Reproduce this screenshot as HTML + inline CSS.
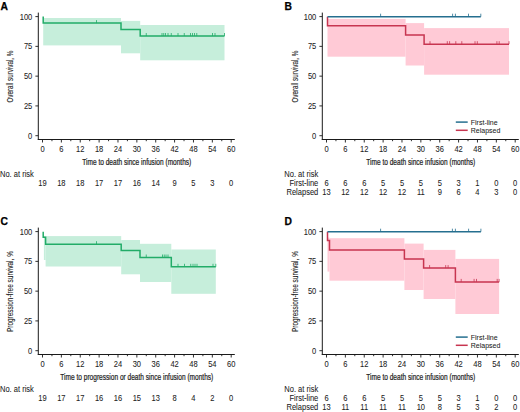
<!DOCTYPE html>
<html><head><meta charset="utf-8"><style>
html,body{margin:0;padding:0;background:#fff;}
svg{display:block;}
text{font-family:"Liberation Sans", sans-serif;fill:#222;}
.t{stroke:#222;stroke-width:0.06px;}
.tt{stroke:#222;stroke-width:0.1px;}
.tx{stroke:#222;stroke-width:0.22px;}
.L{fill:#000;stroke:#000;stroke-width:0.25px;}
</style></head><body>
<svg width="520" height="412" viewBox="0 0 520 412">
<rect width="520" height="412" fill="#fff"/>
<g transform="translate(0 0)"><text x="0.6" y="10" font-size="10.3" font-weight="bold" class="L">A</text><rect x="43.20" y="18.00" width="77.80" height="27.40" fill="#c6eedb"/><rect x="121.00" y="20.90" width="19.20" height="32.40" fill="#c6eedb"/><rect x="140.20" y="25.00" width="84.30" height="35.30" fill="#c6eedb"/><path d="M43.2 16.6 V23.1 H121 V29.4 H140.2 V36 H224.5" fill="none" stroke="#22ac68" stroke-width="1.5"/><line x1="96.50" y1="23.10" x2="96.50" y2="20.10" stroke="#22ac68" stroke-width="0.8"/><line x1="146.25" y1="36.00" x2="146.25" y2="33.00" stroke="#22ac68" stroke-width="0.8"/><line x1="162.00" y1="36.00" x2="162.00" y2="33.00" stroke="#22ac68" stroke-width="0.8"/><line x1="163.75" y1="36.00" x2="163.75" y2="33.00" stroke="#22ac68" stroke-width="0.8"/><line x1="165.50" y1="36.00" x2="165.50" y2="33.00" stroke="#22ac68" stroke-width="0.8"/><line x1="168.00" y1="36.00" x2="168.00" y2="33.00" stroke="#22ac68" stroke-width="0.8"/><line x1="171.25" y1="36.00" x2="171.25" y2="33.00" stroke="#22ac68" stroke-width="0.8"/><line x1="178.00" y1="36.00" x2="178.00" y2="33.00" stroke="#22ac68" stroke-width="0.8"/><line x1="184.25" y1="36.00" x2="184.25" y2="33.00" stroke="#22ac68" stroke-width="0.8"/><line x1="190.50" y1="36.00" x2="190.50" y2="33.00" stroke="#22ac68" stroke-width="0.8"/><line x1="192.50" y1="36.00" x2="192.50" y2="33.00" stroke="#22ac68" stroke-width="0.8"/><line x1="194.50" y1="36.00" x2="194.50" y2="33.00" stroke="#22ac68" stroke-width="0.8"/><line x1="196.75" y1="36.00" x2="196.75" y2="33.00" stroke="#22ac68" stroke-width="0.8"/><line x1="212.50" y1="36.00" x2="212.50" y2="33.00" stroke="#22ac68" stroke-width="0.8"/><line x1="215.00" y1="36.00" x2="215.00" y2="33.00" stroke="#22ac68" stroke-width="0.8"/><line x1="224.50" y1="36.00" x2="224.50" y2="33.00" stroke="#22ac68" stroke-width="0.8"/><line x1="38.3" y1="12.6" x2="38.3" y2="140" stroke="#1a1a1a" stroke-width="1"/><line x1="37.8" y1="139.5" x2="234.8" y2="139.5" stroke="#1a1a1a" stroke-width="1"/><line x1="35.4" y1="135.70" x2="38.3" y2="135.70" stroke="#1a1a1a" stroke-width="0.9"/><text transform="translate(32.30 138.60) scale(0.92 1)" font-size="8.2" text-anchor="end" class="t">0</text><line x1="35.4" y1="105.92" x2="38.3" y2="105.92" stroke="#1a1a1a" stroke-width="0.9"/><text transform="translate(32.30 108.82) scale(0.92 1)" font-size="8.2" text-anchor="end" class="t">25</text><line x1="35.4" y1="76.15" x2="38.3" y2="76.15" stroke="#1a1a1a" stroke-width="0.9"/><text transform="translate(32.30 79.05) scale(0.92 1)" font-size="8.2" text-anchor="end" class="t">50</text><line x1="35.4" y1="46.37" x2="38.3" y2="46.37" stroke="#1a1a1a" stroke-width="0.9"/><text transform="translate(32.30 49.27) scale(0.92 1)" font-size="8.2" text-anchor="end" class="t">75</text><line x1="35.4" y1="16.60" x2="38.3" y2="16.60" stroke="#1a1a1a" stroke-width="0.9"/><text transform="translate(32.30 19.50) scale(0.92 1)" font-size="8.2" text-anchor="end" class="t">100</text><line x1="42.50" y1="139.5" x2="42.50" y2="142.50" stroke="#1a1a1a" stroke-width="0.9"/><text transform="translate(42.50 151.80) scale(0.92 1)" font-size="8.2" text-anchor="middle" class="t">0</text><line x1="51.94" y1="139.5" x2="51.94" y2="141.20" stroke="#1a1a1a" stroke-width="0.9"/><line x1="61.37" y1="139.5" x2="61.37" y2="142.50" stroke="#1a1a1a" stroke-width="0.9"/><text transform="translate(61.37 151.80) scale(0.92 1)" font-size="8.2" text-anchor="middle" class="t">6</text><line x1="70.81" y1="139.5" x2="70.81" y2="141.20" stroke="#1a1a1a" stroke-width="0.9"/><line x1="80.24" y1="139.5" x2="80.24" y2="142.50" stroke="#1a1a1a" stroke-width="0.9"/><text transform="translate(80.24 151.80) scale(0.92 1)" font-size="8.2" text-anchor="middle" class="t">12</text><line x1="89.67" y1="139.5" x2="89.67" y2="141.20" stroke="#1a1a1a" stroke-width="0.9"/><line x1="99.11" y1="139.5" x2="99.11" y2="142.50" stroke="#1a1a1a" stroke-width="0.9"/><text transform="translate(99.11 151.80) scale(0.92 1)" font-size="8.2" text-anchor="middle" class="t">18</text><line x1="108.55" y1="139.5" x2="108.55" y2="141.20" stroke="#1a1a1a" stroke-width="0.9"/><line x1="117.98" y1="139.5" x2="117.98" y2="142.50" stroke="#1a1a1a" stroke-width="0.9"/><text transform="translate(117.98 151.80) scale(0.92 1)" font-size="8.2" text-anchor="middle" class="t">24</text><line x1="127.42" y1="139.5" x2="127.42" y2="141.20" stroke="#1a1a1a" stroke-width="0.9"/><line x1="136.85" y1="139.5" x2="136.85" y2="142.50" stroke="#1a1a1a" stroke-width="0.9"/><text transform="translate(136.85 151.80) scale(0.92 1)" font-size="8.2" text-anchor="middle" class="t">30</text><line x1="146.28" y1="139.5" x2="146.28" y2="141.20" stroke="#1a1a1a" stroke-width="0.9"/><line x1="155.72" y1="139.5" x2="155.72" y2="142.50" stroke="#1a1a1a" stroke-width="0.9"/><text transform="translate(155.72 151.80) scale(0.92 1)" font-size="8.2" text-anchor="middle" class="t">36</text><line x1="165.16" y1="139.5" x2="165.16" y2="141.20" stroke="#1a1a1a" stroke-width="0.9"/><line x1="174.59" y1="139.5" x2="174.59" y2="142.50" stroke="#1a1a1a" stroke-width="0.9"/><text transform="translate(174.59 151.80) scale(0.92 1)" font-size="8.2" text-anchor="middle" class="t">42</text><line x1="184.03" y1="139.5" x2="184.03" y2="141.20" stroke="#1a1a1a" stroke-width="0.9"/><line x1="193.46" y1="139.5" x2="193.46" y2="142.50" stroke="#1a1a1a" stroke-width="0.9"/><text transform="translate(193.46 151.80) scale(0.92 1)" font-size="8.2" text-anchor="middle" class="t">48</text><line x1="202.90" y1="139.5" x2="202.90" y2="141.20" stroke="#1a1a1a" stroke-width="0.9"/><line x1="212.33" y1="139.5" x2="212.33" y2="142.50" stroke="#1a1a1a" stroke-width="0.9"/><text transform="translate(212.33 151.80) scale(0.92 1)" font-size="8.2" text-anchor="middle" class="t">54</text><line x1="221.77" y1="139.5" x2="221.77" y2="141.20" stroke="#1a1a1a" stroke-width="0.9"/><line x1="231.20" y1="139.5" x2="231.20" y2="142.50" stroke="#1a1a1a" stroke-width="0.9"/><text transform="translate(231.20 151.80) scale(0.92 1)" font-size="8.2" text-anchor="middle" class="t">60</text><text x="136.8" y="164.8" font-size="8.6" class="tx" text-anchor="middle" textLength="109" lengthAdjust="spacingAndGlyphs">Time to death since infusion (months)</text><text transform="translate(13.4 76.6) rotate(-90)" x="0" y="0" font-size="8.6" class="tt" text-anchor="middle" textLength="52" lengthAdjust="spacingAndGlyphs">Overall survival, %</text><text transform="translate(0.00 176.80) scale(0.92 1)" font-size="8.2" class="t">No. at risk</text><text transform="translate(42.50 185.50) scale(0.92 1)" font-size="8.2" text-anchor="middle" class="t">19</text><text transform="translate(61.37 185.50) scale(0.92 1)" font-size="8.2" text-anchor="middle" class="t">18</text><text transform="translate(80.24 185.50) scale(0.92 1)" font-size="8.2" text-anchor="middle" class="t">18</text><text transform="translate(99.11 185.50) scale(0.92 1)" font-size="8.2" text-anchor="middle" class="t">17</text><text transform="translate(117.98 185.50) scale(0.92 1)" font-size="8.2" text-anchor="middle" class="t">17</text><text transform="translate(136.85 185.50) scale(0.92 1)" font-size="8.2" text-anchor="middle" class="t">16</text><text transform="translate(155.72 185.50) scale(0.92 1)" font-size="8.2" text-anchor="middle" class="t">14</text><text transform="translate(174.59 185.50) scale(0.92 1)" font-size="8.2" text-anchor="middle" class="t">9</text><text transform="translate(193.46 185.50) scale(0.92 1)" font-size="8.2" text-anchor="middle" class="t">5</text><text transform="translate(212.33 185.50) scale(0.92 1)" font-size="8.2" text-anchor="middle" class="t">3</text><text transform="translate(231.20 185.50) scale(0.92 1)" font-size="8.2" text-anchor="middle" class="t">0</text></g><g transform="translate(284 0)"><text x="0.6" y="10" font-size="10.3" font-weight="bold" class="L">B</text><rect x="43.50" y="18.90" width="78.10" height="37.80" fill="#ffcad6"/><rect x="121.60" y="23.10" width="18.50" height="42.40" fill="#ffcad6"/><rect x="140.10" y="28.10" width="84.90" height="46.60" fill="#ffcad6"/><path d="M43.5 16.7 V25.8 H121.60000000000002 V35.1 H140.10000000000002 V44.2 H225" fill="none" stroke="#c73550" stroke-width="1.5"/><line x1="146.00" y1="44.20" x2="146.00" y2="41.20" stroke="#c73550" stroke-width="0.8"/><line x1="163.30" y1="44.20" x2="163.30" y2="41.20" stroke="#c73550" stroke-width="0.8"/><line x1="165.60" y1="44.20" x2="165.60" y2="41.20" stroke="#c73550" stroke-width="0.8"/><line x1="171.80" y1="44.20" x2="171.80" y2="41.20" stroke="#c73550" stroke-width="0.8"/><line x1="177.80" y1="44.20" x2="177.80" y2="41.20" stroke="#c73550" stroke-width="0.8"/><line x1="191.00" y1="44.20" x2="191.00" y2="41.20" stroke="#c73550" stroke-width="0.8"/><line x1="193.30" y1="44.20" x2="193.30" y2="41.20" stroke="#c73550" stroke-width="0.8"/><line x1="212.90" y1="44.20" x2="212.90" y2="41.20" stroke="#c73550" stroke-width="0.8"/><line x1="215.20" y1="44.20" x2="215.20" y2="41.20" stroke="#c73550" stroke-width="0.8"/><line x1="225.00" y1="44.20" x2="225.00" y2="41.20" stroke="#c73550" stroke-width="0.8"/><path d="M43.5 16.7 H196.8" fill="none" stroke="#256f8f" stroke-width="1.5"/><line x1="96.60" y1="16.70" x2="96.60" y2="13.70" stroke="#256f8f" stroke-width="0.8"/><line x1="168.60" y1="16.70" x2="168.60" y2="13.70" stroke="#256f8f" stroke-width="0.8"/><line x1="171.40" y1="16.70" x2="171.40" y2="13.70" stroke="#256f8f" stroke-width="0.8"/><line x1="184.50" y1="16.70" x2="184.50" y2="13.70" stroke="#256f8f" stroke-width="0.8"/><line x1="196.80" y1="16.70" x2="196.80" y2="13.70" stroke="#256f8f" stroke-width="0.8"/><line x1="38.3" y1="12.6" x2="38.3" y2="140" stroke="#1a1a1a" stroke-width="1"/><line x1="37.8" y1="139.5" x2="234.8" y2="139.5" stroke="#1a1a1a" stroke-width="1"/><line x1="35.4" y1="135.70" x2="38.3" y2="135.70" stroke="#1a1a1a" stroke-width="0.9"/><text transform="translate(32.30 138.60) scale(0.92 1)" font-size="8.2" text-anchor="end" class="t">0</text><line x1="35.4" y1="105.92" x2="38.3" y2="105.92" stroke="#1a1a1a" stroke-width="0.9"/><text transform="translate(32.30 108.82) scale(0.92 1)" font-size="8.2" text-anchor="end" class="t">25</text><line x1="35.4" y1="76.15" x2="38.3" y2="76.15" stroke="#1a1a1a" stroke-width="0.9"/><text transform="translate(32.30 79.05) scale(0.92 1)" font-size="8.2" text-anchor="end" class="t">50</text><line x1="35.4" y1="46.37" x2="38.3" y2="46.37" stroke="#1a1a1a" stroke-width="0.9"/><text transform="translate(32.30 49.27) scale(0.92 1)" font-size="8.2" text-anchor="end" class="t">75</text><line x1="35.4" y1="16.60" x2="38.3" y2="16.60" stroke="#1a1a1a" stroke-width="0.9"/><text transform="translate(32.30 19.50) scale(0.92 1)" font-size="8.2" text-anchor="end" class="t">100</text><line x1="42.50" y1="139.5" x2="42.50" y2="142.50" stroke="#1a1a1a" stroke-width="0.9"/><text transform="translate(42.50 151.80) scale(0.92 1)" font-size="8.2" text-anchor="middle" class="t">0</text><line x1="51.94" y1="139.5" x2="51.94" y2="141.20" stroke="#1a1a1a" stroke-width="0.9"/><line x1="61.37" y1="139.5" x2="61.37" y2="142.50" stroke="#1a1a1a" stroke-width="0.9"/><text transform="translate(61.37 151.80) scale(0.92 1)" font-size="8.2" text-anchor="middle" class="t">6</text><line x1="70.81" y1="139.5" x2="70.81" y2="141.20" stroke="#1a1a1a" stroke-width="0.9"/><line x1="80.24" y1="139.5" x2="80.24" y2="142.50" stroke="#1a1a1a" stroke-width="0.9"/><text transform="translate(80.24 151.80) scale(0.92 1)" font-size="8.2" text-anchor="middle" class="t">12</text><line x1="89.67" y1="139.5" x2="89.67" y2="141.20" stroke="#1a1a1a" stroke-width="0.9"/><line x1="99.11" y1="139.5" x2="99.11" y2="142.50" stroke="#1a1a1a" stroke-width="0.9"/><text transform="translate(99.11 151.80) scale(0.92 1)" font-size="8.2" text-anchor="middle" class="t">18</text><line x1="108.55" y1="139.5" x2="108.55" y2="141.20" stroke="#1a1a1a" stroke-width="0.9"/><line x1="117.98" y1="139.5" x2="117.98" y2="142.50" stroke="#1a1a1a" stroke-width="0.9"/><text transform="translate(117.98 151.80) scale(0.92 1)" font-size="8.2" text-anchor="middle" class="t">24</text><line x1="127.42" y1="139.5" x2="127.42" y2="141.20" stroke="#1a1a1a" stroke-width="0.9"/><line x1="136.85" y1="139.5" x2="136.85" y2="142.50" stroke="#1a1a1a" stroke-width="0.9"/><text transform="translate(136.85 151.80) scale(0.92 1)" font-size="8.2" text-anchor="middle" class="t">30</text><line x1="146.28" y1="139.5" x2="146.28" y2="141.20" stroke="#1a1a1a" stroke-width="0.9"/><line x1="155.72" y1="139.5" x2="155.72" y2="142.50" stroke="#1a1a1a" stroke-width="0.9"/><text transform="translate(155.72 151.80) scale(0.92 1)" font-size="8.2" text-anchor="middle" class="t">36</text><line x1="165.16" y1="139.5" x2="165.16" y2="141.20" stroke="#1a1a1a" stroke-width="0.9"/><line x1="174.59" y1="139.5" x2="174.59" y2="142.50" stroke="#1a1a1a" stroke-width="0.9"/><text transform="translate(174.59 151.80) scale(0.92 1)" font-size="8.2" text-anchor="middle" class="t">42</text><line x1="184.03" y1="139.5" x2="184.03" y2="141.20" stroke="#1a1a1a" stroke-width="0.9"/><line x1="193.46" y1="139.5" x2="193.46" y2="142.50" stroke="#1a1a1a" stroke-width="0.9"/><text transform="translate(193.46 151.80) scale(0.92 1)" font-size="8.2" text-anchor="middle" class="t">48</text><line x1="202.90" y1="139.5" x2="202.90" y2="141.20" stroke="#1a1a1a" stroke-width="0.9"/><line x1="212.33" y1="139.5" x2="212.33" y2="142.50" stroke="#1a1a1a" stroke-width="0.9"/><text transform="translate(212.33 151.80) scale(0.92 1)" font-size="8.2" text-anchor="middle" class="t">54</text><line x1="221.77" y1="139.5" x2="221.77" y2="141.20" stroke="#1a1a1a" stroke-width="0.9"/><line x1="231.20" y1="139.5" x2="231.20" y2="142.50" stroke="#1a1a1a" stroke-width="0.9"/><text transform="translate(231.20 151.80) scale(0.92 1)" font-size="8.2" text-anchor="middle" class="t">60</text><text x="136.8" y="164.8" font-size="8.6" class="tx" text-anchor="middle" textLength="109" lengthAdjust="spacingAndGlyphs">Time to death since infusion (months)</text><text transform="translate(14.2 76.6) rotate(-90)" x="0" y="0" font-size="8.6" class="tt" text-anchor="middle" textLength="52" lengthAdjust="spacingAndGlyphs">Overall survival, %</text><text transform="translate(0.30 176.80) scale(0.92 1)" font-size="8.2" class="t">No. at risk</text><text transform="translate(34.30 185.60) scale(0.92 1)" font-size="8.2" text-anchor="end" class="t">First-line</text><text transform="translate(42.50 185.60) scale(0.92 1)" font-size="8.2" text-anchor="middle" class="t">6</text><text transform="translate(61.37 185.60) scale(0.92 1)" font-size="8.2" text-anchor="middle" class="t">6</text><text transform="translate(80.24 185.60) scale(0.92 1)" font-size="8.2" text-anchor="middle" class="t">6</text><text transform="translate(99.11 185.60) scale(0.92 1)" font-size="8.2" text-anchor="middle" class="t">5</text><text transform="translate(117.98 185.60) scale(0.92 1)" font-size="8.2" text-anchor="middle" class="t">5</text><text transform="translate(136.85 185.60) scale(0.92 1)" font-size="8.2" text-anchor="middle" class="t">5</text><text transform="translate(155.72 185.60) scale(0.92 1)" font-size="8.2" text-anchor="middle" class="t">5</text><text transform="translate(174.59 185.60) scale(0.92 1)" font-size="8.2" text-anchor="middle" class="t">3</text><text transform="translate(193.46 185.60) scale(0.92 1)" font-size="8.2" text-anchor="middle" class="t">1</text><text transform="translate(212.33 185.60) scale(0.92 1)" font-size="8.2" text-anchor="middle" class="t">0</text><text transform="translate(231.20 185.60) scale(0.92 1)" font-size="8.2" text-anchor="middle" class="t">0</text><text transform="translate(34.30 194.80) scale(0.92 1)" font-size="8.2" text-anchor="end" class="t">Relapsed</text><text transform="translate(42.50 194.80) scale(0.92 1)" font-size="8.2" text-anchor="middle" class="t">13</text><text transform="translate(61.37 194.80) scale(0.92 1)" font-size="8.2" text-anchor="middle" class="t">12</text><text transform="translate(80.24 194.80) scale(0.92 1)" font-size="8.2" text-anchor="middle" class="t">12</text><text transform="translate(99.11 194.80) scale(0.92 1)" font-size="8.2" text-anchor="middle" class="t">12</text><text transform="translate(117.98 194.80) scale(0.92 1)" font-size="8.2" text-anchor="middle" class="t">12</text><text transform="translate(136.85 194.80) scale(0.92 1)" font-size="8.2" text-anchor="middle" class="t">11</text><text transform="translate(155.72 194.80) scale(0.92 1)" font-size="8.2" text-anchor="middle" class="t">9</text><text transform="translate(174.59 194.80) scale(0.92 1)" font-size="8.2" text-anchor="middle" class="t">6</text><text transform="translate(193.46 194.80) scale(0.92 1)" font-size="8.2" text-anchor="middle" class="t">4</text><text transform="translate(212.33 194.80) scale(0.92 1)" font-size="8.2" text-anchor="middle" class="t">3</text><text transform="translate(231.20 194.80) scale(0.92 1)" font-size="8.2" text-anchor="middle" class="t">0</text><line x1="171.8" y1="122.1" x2="183.7" y2="122.1" stroke="#256f8f" stroke-width="1.5"/><line x1="171.8" y1="130.3" x2="183.7" y2="130.3" stroke="#c73550" stroke-width="1.5"/><text transform="translate(186.80 124.60) scale(0.92 1)" font-size="7.6" class="t">First-line</text><text transform="translate(186.80 132.90) scale(0.92 1)" font-size="7.6" class="t">Relapsed</text></g><g transform="translate(0 215)"><text x="0.6" y="10" font-size="10.3" font-weight="bold" class="L">C</text><rect x="43.90" y="20.90" width="1.70" height="24.10" fill="#c6eedb"/><rect x="45.60" y="21.10" width="75.60" height="30.40" fill="#c6eedb"/><rect x="121.20" y="25.00" width="18.80" height="34.30" fill="#c6eedb"/><rect x="140.00" y="28.80" width="31.30" height="38.20" fill="#c6eedb"/><rect x="171.30" y="34.50" width="44.50" height="44.30" fill="#c6eedb"/><path d="M43.2 16.69999999999999 V22.30000000000001 H45.6 V29.19999999999999 H121.2 V35.599999999999994 H140 V42.5 H171.3 V51.80000000000001 H215.8" fill="none" stroke="#22ac68" stroke-width="1.5"/><line x1="96.50" y1="29.20" x2="96.50" y2="26.20" stroke="#22ac68" stroke-width="0.8"/><line x1="146.25" y1="42.50" x2="146.25" y2="39.50" stroke="#22ac68" stroke-width="0.8"/><line x1="162.50" y1="42.50" x2="162.50" y2="39.50" stroke="#22ac68" stroke-width="0.8"/><line x1="164.25" y1="42.50" x2="164.25" y2="39.50" stroke="#22ac68" stroke-width="0.8"/><line x1="166.00" y1="42.50" x2="166.00" y2="39.50" stroke="#22ac68" stroke-width="0.8"/><line x1="168.00" y1="42.50" x2="168.00" y2="39.50" stroke="#22ac68" stroke-width="0.8"/><line x1="178.00" y1="51.80" x2="178.00" y2="48.80" stroke="#22ac68" stroke-width="0.8"/><line x1="184.50" y1="51.80" x2="184.50" y2="48.80" stroke="#22ac68" stroke-width="0.8"/><line x1="190.75" y1="51.80" x2="190.75" y2="48.80" stroke="#22ac68" stroke-width="0.8"/><line x1="193.00" y1="51.80" x2="193.00" y2="48.80" stroke="#22ac68" stroke-width="0.8"/><line x1="195.00" y1="51.80" x2="195.00" y2="48.80" stroke="#22ac68" stroke-width="0.8"/><line x1="197.00" y1="51.80" x2="197.00" y2="48.80" stroke="#22ac68" stroke-width="0.8"/><line x1="213.00" y1="51.80" x2="213.00" y2="48.80" stroke="#22ac68" stroke-width="0.8"/><line x1="215.80" y1="51.80" x2="215.80" y2="48.80" stroke="#22ac68" stroke-width="0.8"/><line x1="38.3" y1="12.6" x2="38.3" y2="140" stroke="#1a1a1a" stroke-width="1"/><line x1="37.8" y1="139.5" x2="234.8" y2="139.5" stroke="#1a1a1a" stroke-width="1"/><line x1="35.4" y1="135.70" x2="38.3" y2="135.70" stroke="#1a1a1a" stroke-width="0.9"/><text transform="translate(32.30 138.60) scale(0.92 1)" font-size="8.2" text-anchor="end" class="t">0</text><line x1="35.4" y1="105.92" x2="38.3" y2="105.92" stroke="#1a1a1a" stroke-width="0.9"/><text transform="translate(32.30 108.82) scale(0.92 1)" font-size="8.2" text-anchor="end" class="t">25</text><line x1="35.4" y1="76.15" x2="38.3" y2="76.15" stroke="#1a1a1a" stroke-width="0.9"/><text transform="translate(32.30 79.05) scale(0.92 1)" font-size="8.2" text-anchor="end" class="t">50</text><line x1="35.4" y1="46.37" x2="38.3" y2="46.37" stroke="#1a1a1a" stroke-width="0.9"/><text transform="translate(32.30 49.27) scale(0.92 1)" font-size="8.2" text-anchor="end" class="t">75</text><line x1="35.4" y1="16.60" x2="38.3" y2="16.60" stroke="#1a1a1a" stroke-width="0.9"/><text transform="translate(32.30 19.50) scale(0.92 1)" font-size="8.2" text-anchor="end" class="t">100</text><line x1="42.50" y1="139.5" x2="42.50" y2="142.50" stroke="#1a1a1a" stroke-width="0.9"/><text transform="translate(42.50 151.80) scale(0.92 1)" font-size="8.2" text-anchor="middle" class="t">0</text><line x1="51.94" y1="139.5" x2="51.94" y2="141.20" stroke="#1a1a1a" stroke-width="0.9"/><line x1="61.37" y1="139.5" x2="61.37" y2="142.50" stroke="#1a1a1a" stroke-width="0.9"/><text transform="translate(61.37 151.80) scale(0.92 1)" font-size="8.2" text-anchor="middle" class="t">6</text><line x1="70.81" y1="139.5" x2="70.81" y2="141.20" stroke="#1a1a1a" stroke-width="0.9"/><line x1="80.24" y1="139.5" x2="80.24" y2="142.50" stroke="#1a1a1a" stroke-width="0.9"/><text transform="translate(80.24 151.80) scale(0.92 1)" font-size="8.2" text-anchor="middle" class="t">12</text><line x1="89.67" y1="139.5" x2="89.67" y2="141.20" stroke="#1a1a1a" stroke-width="0.9"/><line x1="99.11" y1="139.5" x2="99.11" y2="142.50" stroke="#1a1a1a" stroke-width="0.9"/><text transform="translate(99.11 151.80) scale(0.92 1)" font-size="8.2" text-anchor="middle" class="t">18</text><line x1="108.55" y1="139.5" x2="108.55" y2="141.20" stroke="#1a1a1a" stroke-width="0.9"/><line x1="117.98" y1="139.5" x2="117.98" y2="142.50" stroke="#1a1a1a" stroke-width="0.9"/><text transform="translate(117.98 151.80) scale(0.92 1)" font-size="8.2" text-anchor="middle" class="t">24</text><line x1="127.42" y1="139.5" x2="127.42" y2="141.20" stroke="#1a1a1a" stroke-width="0.9"/><line x1="136.85" y1="139.5" x2="136.85" y2="142.50" stroke="#1a1a1a" stroke-width="0.9"/><text transform="translate(136.85 151.80) scale(0.92 1)" font-size="8.2" text-anchor="middle" class="t">30</text><line x1="146.28" y1="139.5" x2="146.28" y2="141.20" stroke="#1a1a1a" stroke-width="0.9"/><line x1="155.72" y1="139.5" x2="155.72" y2="142.50" stroke="#1a1a1a" stroke-width="0.9"/><text transform="translate(155.72 151.80) scale(0.92 1)" font-size="8.2" text-anchor="middle" class="t">36</text><line x1="165.16" y1="139.5" x2="165.16" y2="141.20" stroke="#1a1a1a" stroke-width="0.9"/><line x1="174.59" y1="139.5" x2="174.59" y2="142.50" stroke="#1a1a1a" stroke-width="0.9"/><text transform="translate(174.59 151.80) scale(0.92 1)" font-size="8.2" text-anchor="middle" class="t">42</text><line x1="184.03" y1="139.5" x2="184.03" y2="141.20" stroke="#1a1a1a" stroke-width="0.9"/><line x1="193.46" y1="139.5" x2="193.46" y2="142.50" stroke="#1a1a1a" stroke-width="0.9"/><text transform="translate(193.46 151.80) scale(0.92 1)" font-size="8.2" text-anchor="middle" class="t">48</text><line x1="202.90" y1="139.5" x2="202.90" y2="141.20" stroke="#1a1a1a" stroke-width="0.9"/><line x1="212.33" y1="139.5" x2="212.33" y2="142.50" stroke="#1a1a1a" stroke-width="0.9"/><text transform="translate(212.33 151.80) scale(0.92 1)" font-size="8.2" text-anchor="middle" class="t">54</text><line x1="221.77" y1="139.5" x2="221.77" y2="141.20" stroke="#1a1a1a" stroke-width="0.9"/><line x1="231.20" y1="139.5" x2="231.20" y2="142.50" stroke="#1a1a1a" stroke-width="0.9"/><text transform="translate(231.20 151.80) scale(0.92 1)" font-size="8.2" text-anchor="middle" class="t">60</text><text x="136.8" y="164.8" font-size="8.6" class="tx" text-anchor="middle" textLength="153" lengthAdjust="spacingAndGlyphs">Time to progression or death since infusion (months)</text><text transform="translate(13.4 76.6) rotate(-90)" x="0" y="0" font-size="8.6" class="tt" text-anchor="middle" textLength="81" lengthAdjust="spacingAndGlyphs">Progression-free survival, %</text><text transform="translate(0.00 176.80) scale(0.92 1)" font-size="8.2" class="t">No. at risk</text><text transform="translate(42.50 185.50) scale(0.92 1)" font-size="8.2" text-anchor="middle" class="t">19</text><text transform="translate(61.37 185.50) scale(0.92 1)" font-size="8.2" text-anchor="middle" class="t">17</text><text transform="translate(80.24 185.50) scale(0.92 1)" font-size="8.2" text-anchor="middle" class="t">17</text><text transform="translate(99.11 185.50) scale(0.92 1)" font-size="8.2" text-anchor="middle" class="t">16</text><text transform="translate(117.98 185.50) scale(0.92 1)" font-size="8.2" text-anchor="middle" class="t">16</text><text transform="translate(136.85 185.50) scale(0.92 1)" font-size="8.2" text-anchor="middle" class="t">15</text><text transform="translate(155.72 185.50) scale(0.92 1)" font-size="8.2" text-anchor="middle" class="t">13</text><text transform="translate(174.59 185.50) scale(0.92 1)" font-size="8.2" text-anchor="middle" class="t">8</text><text transform="translate(193.46 185.50) scale(0.92 1)" font-size="8.2" text-anchor="middle" class="t">4</text><text transform="translate(212.33 185.50) scale(0.92 1)" font-size="8.2" text-anchor="middle" class="t">2</text><text transform="translate(231.20 185.50) scale(0.92 1)" font-size="8.2" text-anchor="middle" class="t">0</text></g><g transform="translate(284 215)"><text x="0.6" y="10" font-size="10.3" font-weight="bold" class="L">D</text><rect x="43.50" y="22.60" width="2.00" height="34.00" fill="#ffcad6"/><rect x="45.50" y="23.20" width="74.90" height="42.50" fill="#ffcad6"/><rect x="120.40" y="28.60" width="19.20" height="46.40" fill="#ffcad6"/><rect x="139.60" y="34.90" width="31.80" height="49.10" fill="#ffcad6"/><rect x="171.40" y="43.90" width="43.70" height="55.10" fill="#ffcad6"/><path d="M43.5 16.69999999999999 V25.400000000000006 H45.5 V35 H120.39999999999998 V44.10000000000002 H139.60000000000002 V53.10000000000002 H171.39999999999998 V66.89999999999998 H215.10000000000002" fill="none" stroke="#c73550" stroke-width="1.5"/><line x1="145.60" y1="53.10" x2="145.60" y2="50.10" stroke="#c73550" stroke-width="0.8"/><line x1="161.70" y1="53.10" x2="161.70" y2="50.10" stroke="#c73550" stroke-width="0.8"/><line x1="164.10" y1="53.10" x2="164.10" y2="50.10" stroke="#c73550" stroke-width="0.8"/><line x1="177.20" y1="66.90" x2="177.20" y2="63.90" stroke="#c73550" stroke-width="0.8"/><line x1="190.10" y1="66.90" x2="190.10" y2="63.90" stroke="#c73550" stroke-width="0.8"/><line x1="192.50" y1="66.90" x2="192.50" y2="63.90" stroke="#c73550" stroke-width="0.8"/><line x1="213.20" y1="66.90" x2="213.20" y2="63.90" stroke="#c73550" stroke-width="0.8"/><line x1="215.10" y1="66.90" x2="215.10" y2="63.90" stroke="#c73550" stroke-width="0.8"/><path d="M43.5 16.69999999999999 H196.89999999999998" fill="none" stroke="#256f8f" stroke-width="1.5"/><line x1="96.60" y1="16.70" x2="96.60" y2="13.70" stroke="#256f8f" stroke-width="0.8"/><line x1="168.40" y1="16.70" x2="168.40" y2="13.70" stroke="#256f8f" stroke-width="0.8"/><line x1="171.40" y1="16.70" x2="171.40" y2="13.70" stroke="#256f8f" stroke-width="0.8"/><line x1="184.60" y1="16.70" x2="184.60" y2="13.70" stroke="#256f8f" stroke-width="0.8"/><line x1="196.90" y1="16.70" x2="196.90" y2="13.70" stroke="#256f8f" stroke-width="0.8"/><line x1="38.3" y1="12.6" x2="38.3" y2="140" stroke="#1a1a1a" stroke-width="1"/><line x1="37.8" y1="139.5" x2="234.8" y2="139.5" stroke="#1a1a1a" stroke-width="1"/><line x1="35.4" y1="135.70" x2="38.3" y2="135.70" stroke="#1a1a1a" stroke-width="0.9"/><text transform="translate(32.30 138.60) scale(0.92 1)" font-size="8.2" text-anchor="end" class="t">0</text><line x1="35.4" y1="105.92" x2="38.3" y2="105.92" stroke="#1a1a1a" stroke-width="0.9"/><text transform="translate(32.30 108.82) scale(0.92 1)" font-size="8.2" text-anchor="end" class="t">25</text><line x1="35.4" y1="76.15" x2="38.3" y2="76.15" stroke="#1a1a1a" stroke-width="0.9"/><text transform="translate(32.30 79.05) scale(0.92 1)" font-size="8.2" text-anchor="end" class="t">50</text><line x1="35.4" y1="46.37" x2="38.3" y2="46.37" stroke="#1a1a1a" stroke-width="0.9"/><text transform="translate(32.30 49.27) scale(0.92 1)" font-size="8.2" text-anchor="end" class="t">75</text><line x1="35.4" y1="16.60" x2="38.3" y2="16.60" stroke="#1a1a1a" stroke-width="0.9"/><text transform="translate(32.30 19.50) scale(0.92 1)" font-size="8.2" text-anchor="end" class="t">100</text><line x1="42.50" y1="139.5" x2="42.50" y2="142.50" stroke="#1a1a1a" stroke-width="0.9"/><text transform="translate(42.50 151.80) scale(0.92 1)" font-size="8.2" text-anchor="middle" class="t">0</text><line x1="51.94" y1="139.5" x2="51.94" y2="141.20" stroke="#1a1a1a" stroke-width="0.9"/><line x1="61.37" y1="139.5" x2="61.37" y2="142.50" stroke="#1a1a1a" stroke-width="0.9"/><text transform="translate(61.37 151.80) scale(0.92 1)" font-size="8.2" text-anchor="middle" class="t">6</text><line x1="70.81" y1="139.5" x2="70.81" y2="141.20" stroke="#1a1a1a" stroke-width="0.9"/><line x1="80.24" y1="139.5" x2="80.24" y2="142.50" stroke="#1a1a1a" stroke-width="0.9"/><text transform="translate(80.24 151.80) scale(0.92 1)" font-size="8.2" text-anchor="middle" class="t">12</text><line x1="89.67" y1="139.5" x2="89.67" y2="141.20" stroke="#1a1a1a" stroke-width="0.9"/><line x1="99.11" y1="139.5" x2="99.11" y2="142.50" stroke="#1a1a1a" stroke-width="0.9"/><text transform="translate(99.11 151.80) scale(0.92 1)" font-size="8.2" text-anchor="middle" class="t">18</text><line x1="108.55" y1="139.5" x2="108.55" y2="141.20" stroke="#1a1a1a" stroke-width="0.9"/><line x1="117.98" y1="139.5" x2="117.98" y2="142.50" stroke="#1a1a1a" stroke-width="0.9"/><text transform="translate(117.98 151.80) scale(0.92 1)" font-size="8.2" text-anchor="middle" class="t">24</text><line x1="127.42" y1="139.5" x2="127.42" y2="141.20" stroke="#1a1a1a" stroke-width="0.9"/><line x1="136.85" y1="139.5" x2="136.85" y2="142.50" stroke="#1a1a1a" stroke-width="0.9"/><text transform="translate(136.85 151.80) scale(0.92 1)" font-size="8.2" text-anchor="middle" class="t">30</text><line x1="146.28" y1="139.5" x2="146.28" y2="141.20" stroke="#1a1a1a" stroke-width="0.9"/><line x1="155.72" y1="139.5" x2="155.72" y2="142.50" stroke="#1a1a1a" stroke-width="0.9"/><text transform="translate(155.72 151.80) scale(0.92 1)" font-size="8.2" text-anchor="middle" class="t">36</text><line x1="165.16" y1="139.5" x2="165.16" y2="141.20" stroke="#1a1a1a" stroke-width="0.9"/><line x1="174.59" y1="139.5" x2="174.59" y2="142.50" stroke="#1a1a1a" stroke-width="0.9"/><text transform="translate(174.59 151.80) scale(0.92 1)" font-size="8.2" text-anchor="middle" class="t">42</text><line x1="184.03" y1="139.5" x2="184.03" y2="141.20" stroke="#1a1a1a" stroke-width="0.9"/><line x1="193.46" y1="139.5" x2="193.46" y2="142.50" stroke="#1a1a1a" stroke-width="0.9"/><text transform="translate(193.46 151.80) scale(0.92 1)" font-size="8.2" text-anchor="middle" class="t">48</text><line x1="202.90" y1="139.5" x2="202.90" y2="141.20" stroke="#1a1a1a" stroke-width="0.9"/><line x1="212.33" y1="139.5" x2="212.33" y2="142.50" stroke="#1a1a1a" stroke-width="0.9"/><text transform="translate(212.33 151.80) scale(0.92 1)" font-size="8.2" text-anchor="middle" class="t">54</text><line x1="221.77" y1="139.5" x2="221.77" y2="141.20" stroke="#1a1a1a" stroke-width="0.9"/><line x1="231.20" y1="139.5" x2="231.20" y2="142.50" stroke="#1a1a1a" stroke-width="0.9"/><text transform="translate(231.20 151.80) scale(0.92 1)" font-size="8.2" text-anchor="middle" class="t">60</text><text x="136.8" y="164.8" font-size="8.6" class="tx" text-anchor="middle" textLength="109" lengthAdjust="spacingAndGlyphs">Time to death since infusion (months)</text><text transform="translate(14.2 76.6) rotate(-90)" x="0" y="0" font-size="8.6" class="tt" text-anchor="middle" textLength="81" lengthAdjust="spacingAndGlyphs">Progression-free survival, %</text><text transform="translate(0.30 176.80) scale(0.92 1)" font-size="8.2" class="t">No. at risk</text><text transform="translate(34.30 185.60) scale(0.92 1)" font-size="8.2" text-anchor="end" class="t">First-line</text><text transform="translate(42.50 185.60) scale(0.92 1)" font-size="8.2" text-anchor="middle" class="t">6</text><text transform="translate(61.37 185.60) scale(0.92 1)" font-size="8.2" text-anchor="middle" class="t">6</text><text transform="translate(80.24 185.60) scale(0.92 1)" font-size="8.2" text-anchor="middle" class="t">6</text><text transform="translate(99.11 185.60) scale(0.92 1)" font-size="8.2" text-anchor="middle" class="t">5</text><text transform="translate(117.98 185.60) scale(0.92 1)" font-size="8.2" text-anchor="middle" class="t">5</text><text transform="translate(136.85 185.60) scale(0.92 1)" font-size="8.2" text-anchor="middle" class="t">5</text><text transform="translate(155.72 185.60) scale(0.92 1)" font-size="8.2" text-anchor="middle" class="t">5</text><text transform="translate(174.59 185.60) scale(0.92 1)" font-size="8.2" text-anchor="middle" class="t">3</text><text transform="translate(193.46 185.60) scale(0.92 1)" font-size="8.2" text-anchor="middle" class="t">1</text><text transform="translate(212.33 185.60) scale(0.92 1)" font-size="8.2" text-anchor="middle" class="t">0</text><text transform="translate(231.20 185.60) scale(0.92 1)" font-size="8.2" text-anchor="middle" class="t">0</text><text transform="translate(34.30 194.80) scale(0.92 1)" font-size="8.2" text-anchor="end" class="t">Relapsed</text><text transform="translate(42.50 194.80) scale(0.92 1)" font-size="8.2" text-anchor="middle" class="t">13</text><text transform="translate(61.37 194.80) scale(0.92 1)" font-size="8.2" text-anchor="middle" class="t">11</text><text transform="translate(80.24 194.80) scale(0.92 1)" font-size="8.2" text-anchor="middle" class="t">11</text><text transform="translate(99.11 194.80) scale(0.92 1)" font-size="8.2" text-anchor="middle" class="t">11</text><text transform="translate(117.98 194.80) scale(0.92 1)" font-size="8.2" text-anchor="middle" class="t">11</text><text transform="translate(136.85 194.80) scale(0.92 1)" font-size="8.2" text-anchor="middle" class="t">10</text><text transform="translate(155.72 194.80) scale(0.92 1)" font-size="8.2" text-anchor="middle" class="t">8</text><text transform="translate(174.59 194.80) scale(0.92 1)" font-size="8.2" text-anchor="middle" class="t">5</text><text transform="translate(193.46 194.80) scale(0.92 1)" font-size="8.2" text-anchor="middle" class="t">3</text><text transform="translate(212.33 194.80) scale(0.92 1)" font-size="8.2" text-anchor="middle" class="t">2</text><text transform="translate(231.20 194.80) scale(0.92 1)" font-size="8.2" text-anchor="middle" class="t">0</text><line x1="171.8" y1="122.1" x2="183.7" y2="122.1" stroke="#256f8f" stroke-width="1.5"/><line x1="171.8" y1="130.3" x2="183.7" y2="130.3" stroke="#c73550" stroke-width="1.5"/><text transform="translate(186.80 124.60) scale(0.92 1)" font-size="7.6" class="t">First-line</text><text transform="translate(186.80 132.90) scale(0.92 1)" font-size="7.6" class="t">Relapsed</text></g>
</svg></body></html>
